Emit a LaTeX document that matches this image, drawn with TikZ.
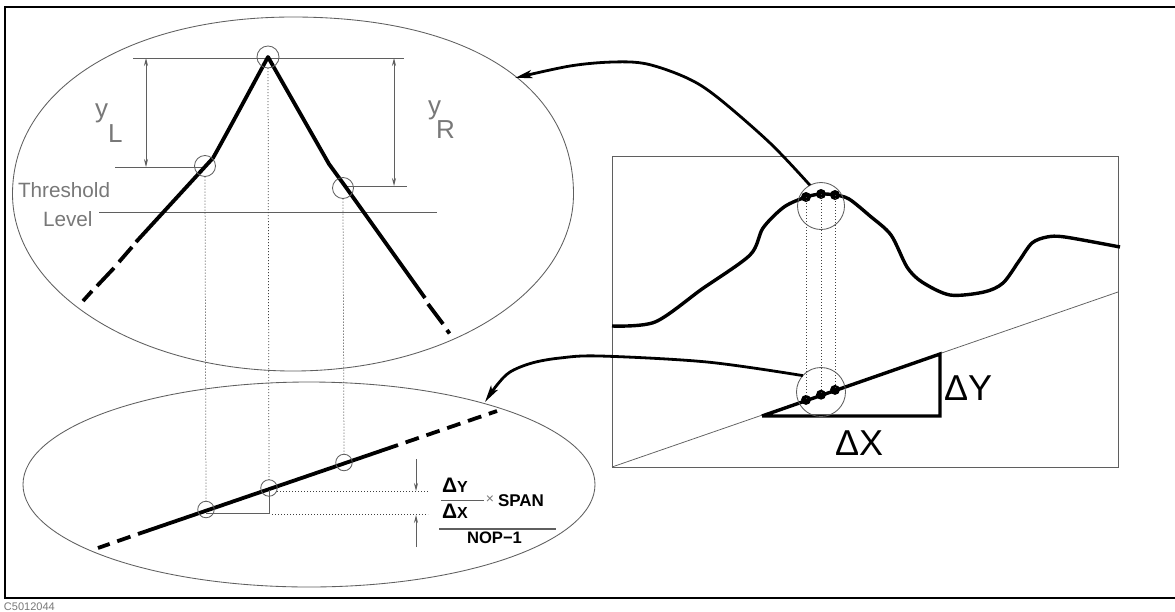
\documentclass[tikz,border=0pt]{standalone}
\usepackage{fontspec}
\setmainfont{Liberation Sans}
\usetikzlibrary{arrows.meta}
\definecolor{thin}{RGB}{95,95,95}
\definecolor{txtgray}{RGB}{120,120,120}
\begin{document}
\begin{tikzpicture}[x=1pt,y=-1pt,
  thinline/.style={draw=thin,line width=0.85pt},
  dotline/.style={draw=black!75,line width=0.75pt,dash pattern=on 1pt off 2pt},
  heavy/.style={draw=black,line width=3.8pt,line join=round},
  conn/.style={draw=black,line width=2.8pt,-{Stealth[length=17pt,width=8pt,inset=4pt]}},
  dimarrow/.style={thinline,{Stealth[length=8pt,width=4pt]}-{Stealth[length=8pt,width=4pt]}},
  onearrow/.style={thinline,-{Stealth[length=8pt,width=4pt]}},
  ring/.style={circle,draw=thin,line width=0.85pt,inner sep=0pt,outer sep=0pt},
  blob/.style={circle,fill=black,inner sep=0pt,outer sep=0pt,minimum size=10pt},
  gtext/.style={text=txtgray,inner sep=0pt,outer sep=0pt},
  btext/.style={text=black,inner sep=0pt,outer sep=0pt},
]
\useasboundingbox (0,0) rectangle (1175,611);
\fill[white] (0,0) rectangle (1175,611);
% outer frame
\draw[line width=2.4pt] (5,7) rectangle (1190,598);
\node[gtext,anchor=base west,font=\fontsize{11}{12}\selectfont] (code) at (4,610) {C5012044};

% ---------- top ellipse ----------
\draw[thinline] (12.5,194) .. controls (12.5,89.6) and (127.2,17) .. (293,17)
  .. controls (467.2,17) and (573.5,84.3) .. (573.5,194)
  .. controls (573.5,291.8) and (448.2,371) .. (293,371)
  .. controls (137.8,371) and (12.5,291.8) .. (12.5,194) -- cycle;

\draw[thinline] (133,58) -- (404,58);
\draw[thinline] (115,167) -- (205,167);
\draw[thinline] (345,186) -- (407,186);
\draw[thinline] (99,212) -- (437,212);

\coordinate (yLt) at (146,58);
\coordinate (yLb) at (146,167);
\coordinate (yRt) at (394,58);
\coordinate (yRb) at (394,186);
\draw[dimarrow] (yLt) -- (yLb);
\draw[dimarrow] (yRt) -- (yRb);

\node[gtext,anchor=base west,font=\fontsize{20.7}{24}\selectfont] (thr) at (18,197) {Threshold};
\node[gtext,anchor=base west,font=\fontsize{20.7}{24}\selectfont] (lev) at (43,226) {Level};
\node[gtext,anchor=base west,font=\fontsize{26}{28}\selectfont] (yl1) at (95,117) {y};
\node[gtext,anchor=base west,font=\fontsize{26}{28}\selectfont] (yl2) at (108,142) {L};
\node[gtext,anchor=base west,font=\fontsize{26}{28}\selectfont] (yr1) at (428,114) {y};
\node[gtext,anchor=base west,font=\fontsize{26}{28}\selectfont] (yr2) at (436,138) {R};

% peak curve
\draw[heavy] (136,242) -- (213,158) .. controls (232,124) and (250,90) .. (268,57)
  -- (329,164) -- (345,186) -- (425,298);
\draw[heavy] (132,247) -- (119,262);
\draw[heavy] (114,268) -- (97,286);
\draw[heavy] (92,291) -- (83,301);
\draw[heavy] (428,304) -- (443,324);
\draw[heavy] (447,330) -- (449.5,333.5);

\node[ring,minimum size=22pt] (pk) at (268,57) {};
\node[ring,minimum size=21pt] (lk) at (205,166) {};
\node[ring,minimum size=21pt] (rk) at (343,188) {};

% ---------- bottom ellipse ----------
\draw[thinline] (309,484.5) ellipse [x radius=286, y radius=102.5];
\draw[heavy] (138,534) -- (398,445);
\draw[heavy,dash pattern=on 14pt off 8pt,dash phase=14pt] (398,445) -- (497,411);
\draw[heavy,dash pattern=on 14pt off 8pt,dash phase=14pt] (138,534) -- (98,548);

\node[ring,minimum size=16.5pt] (b1) at (206,509.5) {};
\node[ring,minimum size=16.5pt] (b2) at (269,488) {};
\node[ring,minimum size=16.5pt] (b3) at (344,462.5) {};

\draw[dotline] (lk.south) -- (b1.north);
\draw[dotline] (pk.south) -- (b2.north);
\draw[dotline] (rk.south) -- (b3.north);

\draw[thinline] (206,513) -- (269,513) -- (269,490);
\draw[dotline] (277,491) -- (428,491);
\draw[dotline] (272,514) -- (428,514);

\coordinate (ua) at (416,459);
\coordinate (ub) at (416,491);
\coordinate (la) at (416,547);
\coordinate (lb) at (416,515);
\draw[onearrow] (ua) -- (ub);
\draw[onearrow] (la) -- (lb);

\node[btext,anchor=base west] (fdy) at (442,492) {\bfseries{\fontsize{21}{21}\selectfont Δ}{\fontsize{16}{16}\selectfont Y}};
\node[btext,anchor=base west] (fdx) at (442,518) {\bfseries{\fontsize{21}{21}\selectfont Δ}{\fontsize{16}{16}\selectfont X}};
\draw[thinline] (441,500) -- (484,500);
\node[gtext,font=\fontsize{14}{14}\selectfont] (times) at (490,500) {×};
\node[btext,anchor=base west,font=\fontsize{17}{17}\selectfont\bfseries] (span) at (498,506.5) {SPAN};
\draw[draw=thin,line width=1.8pt] (439,529) -- (556,529);
\node[btext,anchor=base,font=\fontsize{16.6}{17}\selectfont\bfseries] (nop) at (494.5,543) {NOP−1};

% ---------- right box ----------
\draw[thinline] (612,156) rectangle (1118,467);
\draw[draw=thin,line width=0.75pt] (612,467) -- (1118,292);
\draw[heavy,line width=3.4pt] plot[smooth,tension=0.5] coordinates {
  (612,326) (655,322) (702,289) (750,255) (763,228) (784,207) (806,197) (821,194)
  (835,195) (849,199) (870,216) (891,235) (907,267) (922,282) (950,295) (984,292)
  (1003,283) (1019,261) (1032,243) (1047,237) (1065,237) (1120,247)};
\draw[line width=3.4pt,line join=miter] (762,416) -- (940,354) -- (940,416) -- (762,416);

\node[ring,minimum size=47pt] (tc) at (821,206) {};
\node[ring,minimum size=49pt] (bc) at (821,392) {};

\node[blob] (t1) at (806,197) {};
\node[blob] (t2) at (821,194) {};
\node[blob] (t3) at (835,195) {};
\node[blob] (u1) at (806,399.9) {};
\node[blob] (u2) at (821,394.7) {};
\node[blob] (u3) at (835,389.9) {};
\draw[dotline] (t1.center) -- (u1.center);
\draw[dotline] (t2.center) -- (u2.center);
\draw[dotline] (t3.center) -- (u3.center);

\node[btext,anchor=base west,font=\fontsize{36}{40}\selectfont] (dY) at (944,400) {ΔY};
\node[btext,anchor=base west,font=\fontsize{36}{40}\selectfont] (dX) at (835,455) {ΔX};

% connectors
\coordinate (s1) at (tc.118);
\coordinate (e1) at (515,78);
\draw[conn] plot[smooth,tension=0.55] coordinates {(s1) (770,143) (717,97) (687,78) (647,64) (613,62) (570,66) (e1)};
\coordinate (s2) at (bc.138);
\coordinate (e2) at (485,402);
\draw[conn] plot[smooth,tension=0.55] coordinates {(s2) (707,362) (600,356) (560,358) (532,363) (510,372) (497,385) (e2)};
\end{tikzpicture}
\end{document}
